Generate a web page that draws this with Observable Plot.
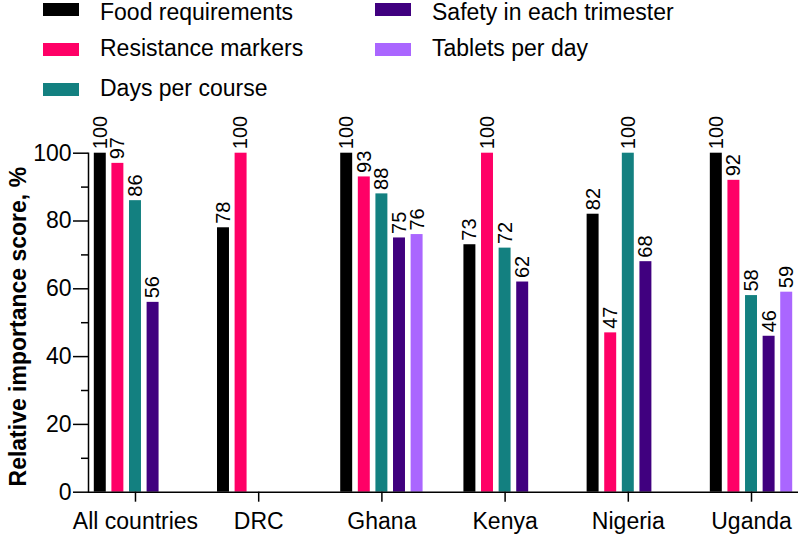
<!DOCTYPE html>
<html>
<head>
<meta charset="utf-8">
<script src="https://cdn.jsdelivr.net/npm/d3@7"></script>
<script src="https://cdn.jsdelivr.net/npm/@observablehq/plot@0.6"></script>
<style>
  html, body { margin: 0; padding: 0; background: #fff; }
  body { width: 800px; height: 535px; overflow: hidden; font-family: "Liberation Sans", Arial, sans-serif; }
  #legend { position: relative; width: 800px; height: 100px; }
  .sw { position: absolute; width: 36px; height: 13px; }
  .lt { position: absolute; font-size: 23px; line-height: 1.117; color: #000; white-space: nowrap; }
</style>
</head>
<body>
<div id="legend"></div>
<div id="chart"></div>
<script>
const countries = ["All countries", "DRC", "Ghana", "Kenya", "Nigeria", "Uganda"];
const seriesNames = ["Food requirements", "Resistance markers", "Days per course", "Safety in each trimester", "Tablets per day"];
const seriesColors = ["#000000", "#FF0066", "#138080", "#40007F", "#AA66FF"];
const foodRequirements = [100, 78, 100, 73, 82, 100];
const resistanceMarkers = [97, 100, 93, 100, 47, 92];
const daysPerCourse = [86, null, 88, 72, 100, 58];
const safetyInEachTrimester = [56, null, 75, 62, 68, 46];
const tabletsPerDay = [null, null, 76, null, null, 59];
const yTicks = [0, 20, 40, 60, 80, 100];
const yMinorTicks = [10, 30, 50, 70, 90];
const yLabel = "Relative importance score, %";

const seriesValues = [foodRequirements, resistanceMarkers, daysPerCourse, safetyInEachTrimester, tabletsPerDay];

// legend (HTML, above the SVG)
const FS = 23;
const legend = document.getElementById("legend");
const legendPos = [
  {left: 43, swTop: 3, base: 20.9}, {left: 43, swTop: 42.5, base: 57}, {left: 43, swTop: 82.5, base: 96.5},
  {left: 375, swTop: 3, base: 20.9}, {left: 375, swTop: 42.5, base: 57}
];
seriesNames.forEach((s, i) => {
  const p = legendPos[i];
  const sw = document.createElement("span");
  sw.className = "sw";
  sw.style.left = p.left + "px";
  sw.style.top = p.swTop + "px";
  sw.style.background = seriesColors[i];
  const t = document.createElement("span");
  t.className = "lt";
  t.style.left = (p.left + 57) + "px";
  t.style.top = Math.max(0, p.base - 0.905 * FS) + "px";
  t.textContent = s;
  legend.appendChild(sw);
  legend.appendChild(t);
});

// data table
const rows = [];
countries.forEach((c, ci) => {
  seriesNames.forEach((s, si) => {
    const v = seriesValues[si][ci];
    if (v != null) rows.push({key: c + "|" + s, country: c, series: s, value: v});
  });
});
const xDomain = [];
countries.forEach(c => {
  xDomain.push(c + "|_a");
  seriesNames.forEach(s => xDomain.push(c + "|" + s));
  xDomain.push(c + "|_b");
});
const centerKeys = countries.map(c => c + "|" + seriesNames[2]);

const plot = Plot.plot({
  width: 800,
  height: 435,
  marginLeft: 88,
  marginRight: 2,
  marginTop: 52.7,
  marginBottom: 43.3,
  style: {fontFamily: "'Liberation Sans', Arial, sans-serif", background: "#fff", color: "#000"},
  x: {type: "band", domain: xDomain, range: [76.2, 809.8], paddingInner: 0.32, paddingOuter: 0, round: false},
  y: {domain: [0, 100]},
  color: {domain: seriesNames, range: seriesColors},
  marks: [
    Plot.barY(rows, {x: "key", y: "value", fill: "series"}),
    Plot.text(rows, {x: "key", y: "value", text: d => String(d.value), rotate: -90, textAnchor: "start", lineAnchor: "middle", dy: -4, fontSize: 20, fill: "#000"}),
    Plot.ruleY([0], {stroke: "#000", strokeWidth: 1.5}),
    Plot.frame({anchor: "left", stroke: "#000", strokeWidth: 1.5}),
    Plot.axisY(yTicks, {tickSize: 15, tickPadding: 2, fontSize: 23, tickFormat: d => String(d), label: null, strokeWidth: 1.5}),
    Plot.axisY(yMinorTicks, {tickSize: 7, tickFormat: () => "", label: null, strokeWidth: 1.5}),
    Plot.axisX(centerKeys, {tickSize: 10, tickPadding: 10, fontSize: 23, tickFormat: d => d.split("|")[0], label: null, strokeWidth: 1.5}),
    Plot.text([yLabel], {frameAnchor: "left", text: d => d, rotate: -90, dx: -70, dy: 4, fontSize: 23, fontWeight: "bold", lineAnchor: "middle", textAnchor: "middle", fill: "#000"})
  ]
});
document.getElementById("chart").appendChild(plot);
</script>
</body>
</html>
